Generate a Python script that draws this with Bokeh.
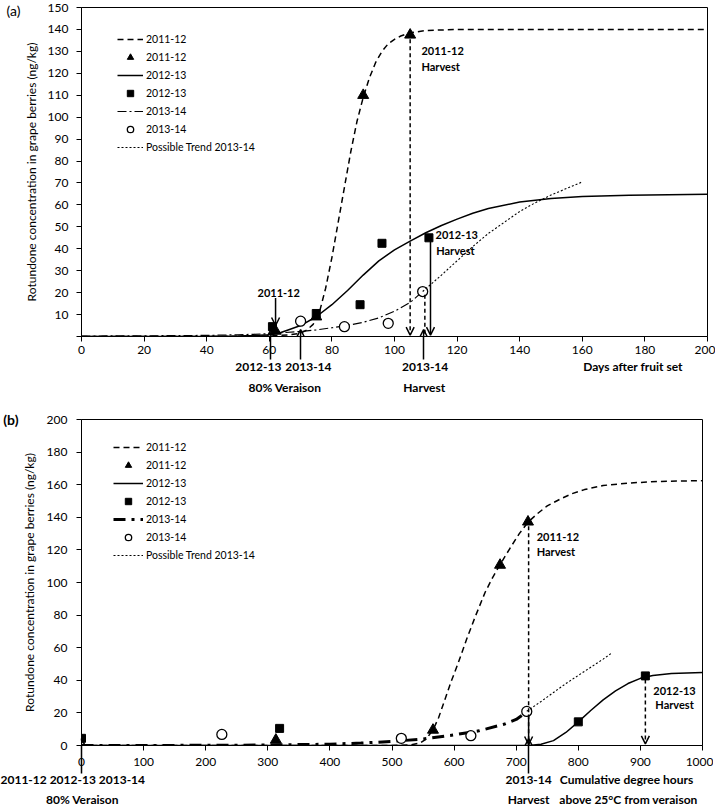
from bokeh.plotting import figure
from bokeh.layouts import column
from bokeh.models import (Range1d, Label, Arrow, OpenHead, Legend, LegendItem, FixedTicker,
                          LinearAxis)
from bokeh.embed import file_html
from bokeh.resources import INLINE

FONT = "Lato"

# ================= Panel (a): days after fruit set =================
a_xticks = [0, 20, 40, 60, 80, 100, 120, 140, 160, 180, 200]
a_yticks = [0, 10, 20, 30, 40, 50, 60, 70, 80, 90, 100, 110, 120, 130, 140, 150]

# fitted curves
a_fit_1112_x = [0, 20, 40, 60, 66, 70, 72, 74, 76, 78, 80, 82, 84, 86, 88, 90, 92, 94, 96, 98,
                100, 102, 105, 110, 120, 140, 170, 200]
a_fit_1112_y = [0, 0, 0, 0.2, 0.7, 1.5, 3, 5.5, 11, 22, 36, 52, 68, 84, 98, 109, 118, 125, 130,
                133.5, 135.5, 137, 138.5, 139.5, 140, 140, 140, 140]
a_fit_1213_x = [0, 20, 40, 50, 55, 60, 63, 66, 70, 75, 80, 85, 90, 95, 100, 105, 110, 115, 120,
                125, 130, 140, 150, 160, 175, 200]
a_fit_1213_y = [0, 0, 0.1, 0.2, 0.4, 0.8, 1.5, 3, 5, 9, 14.5, 21, 28, 34.5, 39.5, 43.5, 47.3,
                50.6, 53.5, 56.2, 58.4, 61.3, 62.9, 63.8, 64.4, 64.8]
a_fit_1314_x = [0, 20, 40, 50, 55, 60, 65, 70, 75, 80, 85, 90, 95, 100, 105, 109]
a_fit_1314_y = [0.2, 0.3, 0.5, 0.8, 1.0, 1.3, 1.8, 2.3, 3, 4, 5, 6.5, 8.5, 11.5, 15.5, 20.5]
a_trend_x = [109, 115, 120, 125, 130, 135, 140, 145, 150, 155, 160]
a_trend_y = [20.5, 28, 34.5, 41, 47, 52, 57, 61, 64.5, 67.5, 70.5]

# measured points
a_pts_1112_x = [62, 75, 90, 105]
a_pts_1112_y = [2.5, 9, 110, 137.5]
a_pts_1213_x = [61, 75, 89, 96, 111]
a_pts_1213_y = [4.5, 10.5, 14.5, 42.5, 45]
a_pts_1314_x = [70, 84, 98, 109]
a_pts_1314_y = [7, 4.5, 6, 20.5]

# phenology events (days)
a_veraison = {"2011-12": 62, "2012-13": 60.5, "2013-14": 70}
a_harvest = {"2011-12": 105, "2012-13": 111.5, "2013-14": 109.3}

# ================= Panel (b): cumulative degree hours =================
b_xticks = [0, 100, 200, 300, 400, 500, 600, 700, 800, 900, 1000]
b_yticks = [0, 20, 40, 60, 80, 100, 120, 140, 160, 180, 200]

b_fit_1112_x = [0, 300, 500, 530, 545, 555, 566, 575, 585, 595, 606, 620, 634, 650, 662, 674,
                690, 705, 719, 735, 750, 770, 790, 810, 840, 880, 930, 1000]
b_fit_1112_y = [0, 0, 0, 0.3, 1.5, 4, 9.5, 17, 28, 39, 50, 65, 79, 94, 103, 111, 121, 130, 137,
                142.5, 147, 151, 154.5, 157, 159.5, 161, 162, 162.5]
b_fit_1213_x = [0, 300, 600, 720, 740, 760, 780, 800, 820, 840, 860, 880, 900, 920, 950, 1000]
b_fit_1213_y = [0, 0, 0, 0, 0.8, 3, 8, 14.5, 21.5, 28, 33.5, 38, 41.2, 43, 44.2, 44.8]
b_fit_1314_x = [0, 100, 200, 300, 400, 450, 500, 550, 600, 640, 680, 700, 717]
b_fit_1314_y = [0, 0.05, 0.1, 0.3, 0.8, 1.5, 2.5, 4, 6.5, 9, 13, 16, 20.5]
b_trend_x = [717, 740, 760, 780, 800, 820, 840, 853]
b_trend_y = [21, 27, 32.5, 38, 43, 48, 53, 56.5]

b_pts_1112_x = [313, 566, 674, 719]
b_pts_1112_y = [3.4, 9.5, 110.7, 137.2]
b_pts_1213_x = [0, 319, 800, 908]
b_pts_1213_y = [4.4, 10.5, 14.5, 42.7]
b_pts_1314_x = [226, 515, 627, 717]
b_pts_1314_y = [6.8, 4.4, 6, 20.9]

b_veraison = 0
b_harvest = {"2011-12": 720, "2012-13": 908, "2013-14": 720}

YTITLE = "Rotundone concentration in grape berries (ng/kg)"
NBSP = "\u00a0"


def make_fig(fw, fh, bl, br, bt, bb, xr, yr, xticks, yticks, ystand, hide_zero,
             up_marks, up_len, xstand, title_stand):
    p = figure(frame_width=fw, frame_height=fh, min_border_left=bl, min_border_right=br,
               min_border_top=bt, min_border_bottom=bb, x_range=Range1d(*xr),
               y_range=Range1d(*yr), output_backend="svg", toolbar_location=None)
    p.xgrid.visible = False
    p.ygrid.visible = False
    p.outline_line_color = "black"
    p.outline_line_width = 1
    for ax in (p.xaxis[0], p.yaxis[0]):
        ax.axis_line_color = "black"
        ax.major_tick_line_color = "black"
        ax.major_tick_out = 5
        ax.major_tick_in = 0
        ax.major_label_text_font = FONT
        ax.major_label_text_font_size = "12px"
        ax.major_label_text_color = "black"
    xa = p.xaxis[0]
    # minor ticks used as the stems of the event arrows below the axis
    xa.ticker = FixedTicker(ticks=xticks, minor_ticks=up_marks)
    xa.minor_tick_out = up_len
    xa.minor_tick_in = 0
    xa.minor_tick_line_color = "black"
    xa.minor_tick_line_width = 1.5
    xa.major_label_standoff = xstand
    ya = p.yaxis[0]
    ya.ticker = FixedTicker(ticks=yticks)
    ya.minor_tick_line_color = None
    ya.major_label_standoff = ystand
    ya.axis_label = YTITLE
    ya.axis_label_text_font = FONT
    ya.axis_label_text_font_size = "12px"
    ya.axis_label_text_font_style = "normal"
    ya.axis_label_text_color = "black"
    ya.axis_label_standoff = title_stand
    if hide_zero:
        ya.major_label_overrides = {0: ""}
    return p


def text_axis(p, place, ticks, labels, standoff, size="12px", bold=True, bounds=None):
    ax = LinearAxis(ticker=FixedTicker(ticks=ticks, minor_ticks=[]),
                    major_label_overrides=dict(zip(ticks, labels)),
                    axis_line_color=None, major_tick_line_color=None,
                    minor_tick_line_color=None, major_tick_out=0, major_tick_in=0,
                    minor_tick_out=0, minor_tick_in=0, major_label_standoff=standoff,
                    major_label_text_font=FONT, major_label_text_font_size=size,
                    major_label_text_font_style="bold" if bold else "normal",
                    major_label_text_color="black")
    if bounds is not None:
        ax.bounds = bounds
    p.add_layout(ax, place)


def txt(p, x, y, s, align="center", size="11px"):
    p.add_layout(Label(x=x, y=y, text=s, text_align=align, text_baseline="middle",
                       text_font=FONT, text_font_size=size, text_font_style="bold",
                       text_color="black"))


def arrow(p, x, y0, y1, dash="solid", head=True):
    p.add_layout(Arrow(x_start=x, y_start=y0, x_end=x, y_end=y1, line_width=1.5,
                       line_color="black", line_dash=dash,
                       end=OpenHead(size=8, line_width=1.5, line_color="black") if head else None))


def draw_series(p, fits, pts, trend, dd_width, dd_dash):
    r_d = p.line(fits[0][0], fits[0][1], line_color="black", line_width=1.5, line_dash="6 4")
    r_t = p.scatter(pts[0][0], pts[0][1], marker="triangle", size=11, color="black")
    r_s = p.line(fits[1][0], fits[1][1], line_color="black", line_width=1.5)
    r_q = p.scatter(pts[1][0], pts[1][1], marker="square", size=8, color="black")
    r_dd = p.line(fits[2][0], fits[2][1], line_color="black", line_width=dd_width, line_dash=dd_dash)
    r_c = p.scatter(pts[2][0], pts[2][1], marker="circle", size=10, fill_color="white",
                    line_color="black", line_width=1.3)
    r_tr = p.line(trend[0], trend[1], line_color="black", line_width=1.1, line_dash="2 2")
    return [("2011-12", r_d), ("2011-12", r_t), ("2012-13", r_s), ("2012-13", r_q),
            ("2013-14", r_dd), ("2013-14", r_c), ("Possible Trend 2013-14", r_tr)]


def add_legend(p, items, loc, gw):
    lg = Legend(items=[LegendItem(label=l, renderers=[r]) for l, r in items], location=loc,
                orientation="vertical", glyph_width=gw, glyph_height=16, label_height=16,
                spacing=2, padding=0, margin=0, label_standoff=3, border_line_alpha=0,
                background_fill_alpha=0, label_text_font=FONT, label_text_font_size="10.5px",
                label_text_color="black")
    p.add_layout(lg)


# ---------------- figure (a) ----------------
a_up = [a_veraison["2012-13"], a_veraison["2013-14"], a_harvest["2013-14"]]
pa = make_fig(626, 329, 73, 11, 7, 68, (0, 200), (0, 150), a_xticks, a_yticks, 8, True,
              a_up, 23, -14, 6)
items_a = draw_series(pa, [(a_fit_1112_x, a_fit_1112_y), (a_fit_1213_x, a_fit_1213_y),
                           (a_fit_1314_x, a_fit_1314_y)],
                      [(a_pts_1112_x, a_pts_1112_y), (a_pts_1213_x, a_pts_1213_y),
                       (a_pts_1314_x, a_pts_1314_y)], (a_trend_x, a_trend_y), 1.2, "9 3 2 3")
add_legend(pa, items_a, (36, 181), 26)

arrow(pa, a_veraison["2011-12"], 17.5, 5)
txt(pa, a_veraison["2011-12"] + 1, 19.8, "2011-12")
arrow(pa, a_harvest["2011-12"], 135.5, 0.6, dash="4 3")
txt(pa, a_harvest["2011-12"] + 3.6, 130.3, "2011-12", align="left")
txt(pa, a_harvest["2011-12"] + 3.6, 123.3, "Harvest", align="left")
arrow(pa, a_harvest["2013-14"] + 0.4, 19, 0, dash="4 3", head=False)
arrow(pa, a_harvest["2012-13"], 43.5, 0.6)
txt(pa, a_harvest["2012-13"] + 1.6, 46.2, "2012-13", align="left")
txt(pa, a_harvest["2012-13"] + 1.8, 39.3, "Harvest", align="left")
for xv in a_up:
    arrow(pa, xv, -3, 3.2)

text_axis(pa, "below", [56.5, 72.5, 109.8, 176.2],
          ["2012-13", "2013-14", "2013-14", "Days after fruit set"], 2)
text_axis(pa, "below", [65, 109.5], ["80% Veraison", "Harvest"], 3)
text_axis(pa, "left", [150], ["(a)"], 0, size="14px", bold=False, bounds=(0, 160))

# ---------------- figure (b) ----------------
b_up = [b_veraison, b_harvest["2013-14"]]
pb = make_fig(621, 326, 78, 11, 15, 60, (0, 1000), (0, 200), b_xticks, b_yticks, 9, False,
              b_up, 28, -16, 7)
items_b = draw_series(pb, [(b_fit_1112_x, b_fit_1112_y), (b_fit_1213_x, b_fit_1213_y),
                           (b_fit_1314_x, b_fit_1314_y)],
                      [(b_pts_1112_x, b_pts_1112_y), (b_pts_1213_x, b_pts_1213_y),
                       (b_pts_1314_x, b_pts_1314_y)], (b_trend_x, b_trend_y), 3, "12 6 3 6")
add_legend(pb, items_b, (32, 182), 30)

arrow(pb, b_harvest["2011-12"], 134.5, 0.6, dash="4 3")
arrow(pb, b_harvest["2013-14"], 19, 0, head=False)
txt(pb, b_harvest["2011-12"] + 13, 128, "2011-12", align="left")
txt(pb, b_harvest["2011-12"] + 13, 119, "Harvest", align="left")
arrow(pb, b_harvest["2012-13"], 40.5, 1, dash="4 3")
txt(pb, b_harvest["2012-13"] + 47, 33.6, "2012-13")
txt(pb, b_harvest["2012-13"] + 47, 25, "Harvest")
for xv in b_up:
    arrow(pb, xv, -3, 4.3)

# the veraison caption sits left of the axis origin: trailing no-break spaces move its
# visible part left of the tick it is centred on
text_axis(pb, "below", [b_veraison, 720, 877.6],
          ["2011-12 2012-13 2013-14" + NBSP * 8, "2013-14", "Cumulative degree hours"], 3)
text_axis(pb, "below", [1.6, 720, 880.8], ["80% Veraison", "Harvest", "above 25°C from veraison"], 2)
text_axis(pb, "left", [200], ["(b)"], 0, size="14px", bold=True, bounds=(0, 210))

layout = column(pa, pb, spacing=0)
open("out.html", "w").write(file_html(layout, INLINE))
